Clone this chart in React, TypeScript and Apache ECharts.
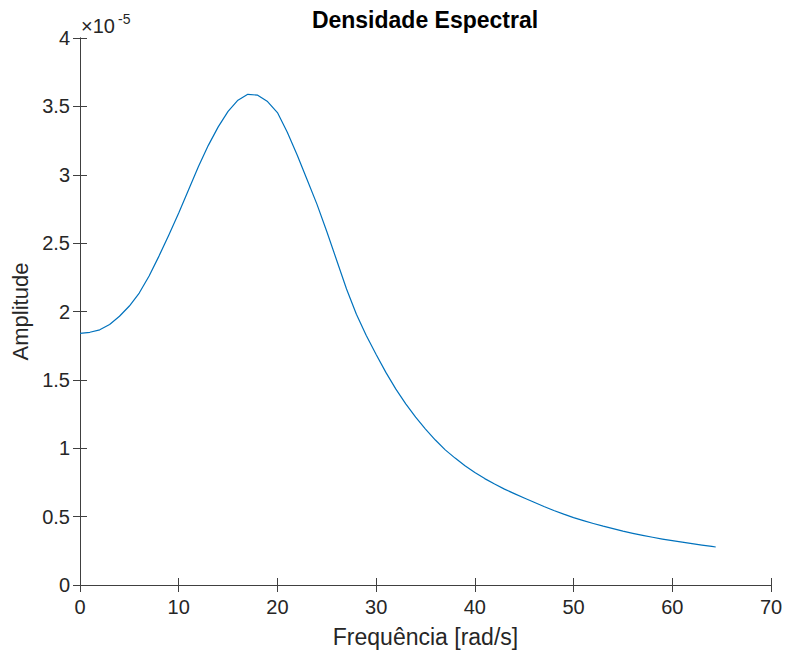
import React, { useEffect, useRef } from "react";
import * as echarts from "echarts";

const freq = [
  0, 1, 2, 3, 4, 5, 6, 7, 8, 9, 10, 11, 12, 13, 14, 15, 16, 17, 18, 19, 20, 21, 22, 23, 24, 25, 26, 27, 28, 29, 30, 31, 32,
  33, 34, 35, 36, 37, 38, 39, 40, 41, 42, 43, 44, 45, 46, 47, 48, 49, 50, 51, 52, 53, 54, 55, 56, 57, 58, 59, 60, 61, 62, 63, 64, 64.4,
];
const amp = [
  1.84, 1.848, 1.866, 1.905, 1.965, 2.04, 2.135, 2.26, 2.405, 2.56, 2.72, 2.89, 3.06, 3.215, 3.35, 3.463, 3.545, 3.588, 3.582,
  3.535, 3.455, 3.31, 3.145, 2.965, 2.785, 2.585, 2.375, 2.165, 1.98, 1.825, 1.685, 1.553, 1.432, 1.325, 1.227, 1.14, 1.06,
  0.988, 0.928, 0.872, 0.822, 0.778, 0.738, 0.701, 0.668, 0.636, 0.605, 0.574, 0.545, 0.518, 0.493, 0.471, 0.45, 0.43, 0.412,
  0.394, 0.378, 0.363, 0.349, 0.336, 0.324, 0.313, 0.303, 0.292, 0.282, 0.278,
];
const xTicks = { min: 0, max: 70, interval: 10 };
const yTicks = { min: 0, max: 4, interval: 0.5 };

const FONT = "Liberation Sans, Arial, Helvetica, sans-serif";
const TXT = "#262626";
const AX = "#404040";

export default function App() {
  const ref = useRef<HTMLDivElement>(null);
  useEffect(() => {
    if (!ref.current) return;
    const chart = echarts.init(ref.current, undefined, { renderer: "svg" });
    const tickStyle = { show: true, inside: true, length: 7, lineStyle: { color: AX, width: 1 } };
    const lineStyle = { show: true, lineStyle: { color: AX, width: 1 } };
    chart.setOption({
      animation: false,
      backgroundColor: "#ffffff",
      grid: { left: 80, right: 15, top: 38, bottom: 66, containLabel: false },
      xAxis: [
        {
          type: "value",
          position: "bottom",
          min: xTicks.min,
          max: xTicks.max,
          interval: xTicks.interval,
          axisLine: lineStyle,
          axisTick: tickStyle,
          splitLine: { show: false },
          axisLabel: { color: TXT, fontSize: 20, fontFamily: FONT, margin: 12 },
          name: "Frequência [rad/s]",
          nameLocation: "middle",
          nameGap: 40,
          nameTextStyle: { color: TXT, fontSize: 23, fontFamily: FONT },
        },
        {
          type: "value",
          position: "top",
          min: xTicks.min,
          max: xTicks.max,
          interval: xTicks.interval,
          axisLine: lineStyle,
          axisTick: tickStyle,
          splitLine: { show: false },
          axisLabel: { show: false },
        },
      ],
      yAxis: [
        {
          type: "value",
          position: "left",
          min: yTicks.min,
          max: yTicks.max,
          interval: yTicks.interval,
          axisLine: lineStyle,
          axisTick: tickStyle,
          splitLine: { show: false },
          axisLabel: { color: TXT, fontSize: 20, fontFamily: FONT, margin: 10 },
          name: "Amplitude",
          nameLocation: "middle",
          nameRotate: 90,
          nameGap: 49,
          nameTextStyle: { color: TXT, fontSize: 22, fontFamily: FONT },
        },
        {
          type: "value",
          position: "right",
          min: yTicks.min,
          max: yTicks.max,
          interval: yTicks.interval,
          axisLine: lineStyle,
          axisTick: tickStyle,
          splitLine: { show: false },
          axisLabel: { show: false },
        },
      ],
      graphic: [
        {
          type: "text",
          x: 425,
          y: 20,
          style: {
            text: "Densidade Espectral",
            textAlign: "center",
            textVerticalAlign: "middle",
            font: `bold 23px ${FONT}`,
            fill: "#000000",
          },
        },
        {
          type: "text",
          x: 81,
          y: 26,
          style: {
            text: "×10",
            textAlign: "left",
            textVerticalAlign: "middle",
            font: `20px ${FONT}`,
            fill: TXT,
          },
        },
        {
          type: "text",
          x: 118,
          y: 19,
          style: {
            text: "-5",
            textAlign: "left",
            textVerticalAlign: "middle",
            font: `14px ${FONT}`,
            fill: TXT,
          },
        },
      ],
      series: [
        {
          type: "line",
          xAxisIndex: 0,
          yAxisIndex: 0,
          data: freq.map((f, i) => [f, amp[i]]),
          smooth: false,
          showSymbol: false,
          symbol: "none",
          lineStyle: { color: "#0072BD", width: 1.2, join: "round" },
        },
      ],
    });
    return () => chart.dispose();
  }, []);
  return <div ref={ref} style={{ width: 786, height: 653, position: "absolute", left: 0, top: 0 }} />;
}
